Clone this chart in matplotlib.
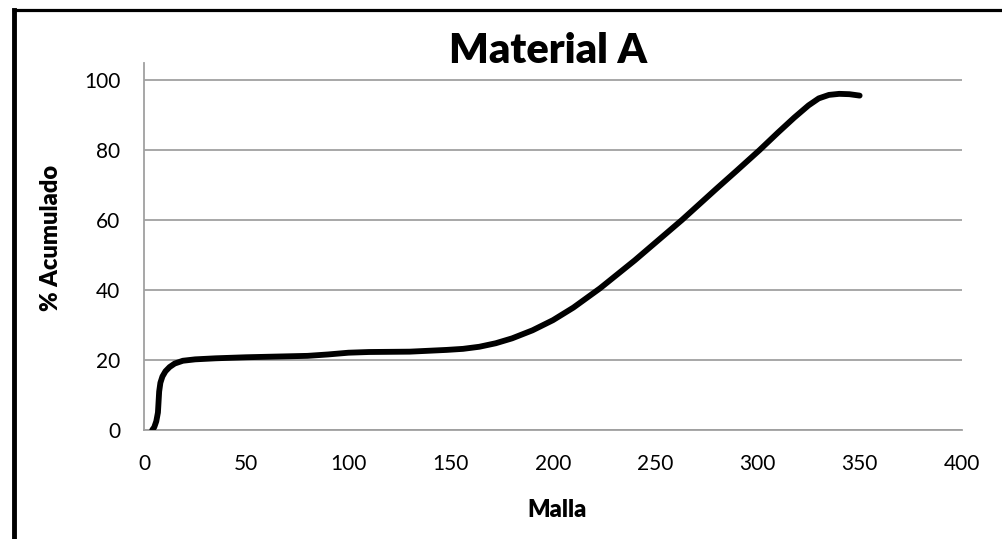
import matplotlib
matplotlib.use('Agg')
import matplotlib.pyplot as plt
from matplotlib.lines import Line2D

plt.rcParams['font.family'] = ['Lato', 'DejaVu Sans']

malla = [4, 5, 6, 6.8, 7.1, 7.4, 8, 9, 10.5, 12.5, 15, 19, 25, 35, 50, 65,
         80, 90, 100, 110, 130, 148, 156, 164, 172, 180, 190, 200, 210, 223,
         240, 250, 263, 280, 290, 301, 310, 318, 325, 330, 335, 340, 345, 350]
acumulado = [0, 0.8, 2.5, 5, 8, 11, 13.5, 15.3, 16.8, 18, 19, 19.8, 20.2,
             20.5, 20.8, 21, 21.2, 21.6, 22.1, 22.3, 22.4, 22.9, 23.2, 23.8,
             24.8, 26.2, 28.5, 31.4, 35, 40.5, 48.5, 53.5, 60, 69, 74.2, 80,
             85, 89.3, 92.8, 94.8, 95.8, 96.1, 96, 95.6]
xticks = [0, 50, 100, 150, 200, 250, 300, 350, 400]
yticks = [0, 20, 40, 60, 80, 100]

fig = plt.figure(figsize=(10.03, 5.39), dpi=100)
ax = fig.add_axes([0.1436, 0.2022, 0.959 - 0.1436, 0.883 - 0.2022])

ax.plot(malla, acumulado, color='black', lw=4.2, solid_capstyle='round',
        solid_joinstyle='round', zorder=3)

ax.set_xlim(0, 400)
ax.set_ylim(0, 104.9)
ax.set_xticks(xticks)
ax.set_yticks(yticks)
ax.tick_params(length=0, labelsize=15, colors='black')
ax.tick_params(axis='x', pad=17)
ax.tick_params(axis='y', pad=17)
ax.grid(axis='y', color='#a0a0a0', lw=1.3)
ax.set_axisbelow(True)
for s in ['top', 'right']:
    ax.spines[s].set_visible(False)
for s in ['left', 'bottom']:
    ax.spines[s].set_color('#a0a0a0')
    ax.spines[s].set_linewidth(1.3)

# título colocado a mano (base del texto en el borde superior del área)
fig.text(0.5469, 1 - 63 / 539, 'Material A', fontsize=30, fontweight='heavy',
         ha='center', va='baseline')
ax.set_xlabel('Malla', fontsize=17, fontweight='heavy')
ax.set_ylabel('% Acumulado', fontsize=17, fontweight='heavy')
ax.xaxis.set_label_coords(0.505, -0.188)
ax.yaxis.set_label_coords(-0.100, 0.523)

# marco negro (izquierda y arriba)
fig.add_artist(Line2D([14 / 1003, 14 / 1003], [0, 1 - 10 / 539], color='black', lw=3.5,
                      transform=fig.transFigure, solid_capstyle='projecting'))
fig.add_artist(Line2D([14 / 1003, 1], [1 - 10 / 539, 1 - 10 / 539], color='black', lw=2.3,
                      transform=fig.transFigure, solid_capstyle='projecting'))

fig.savefig('out.png', dpi=100)
